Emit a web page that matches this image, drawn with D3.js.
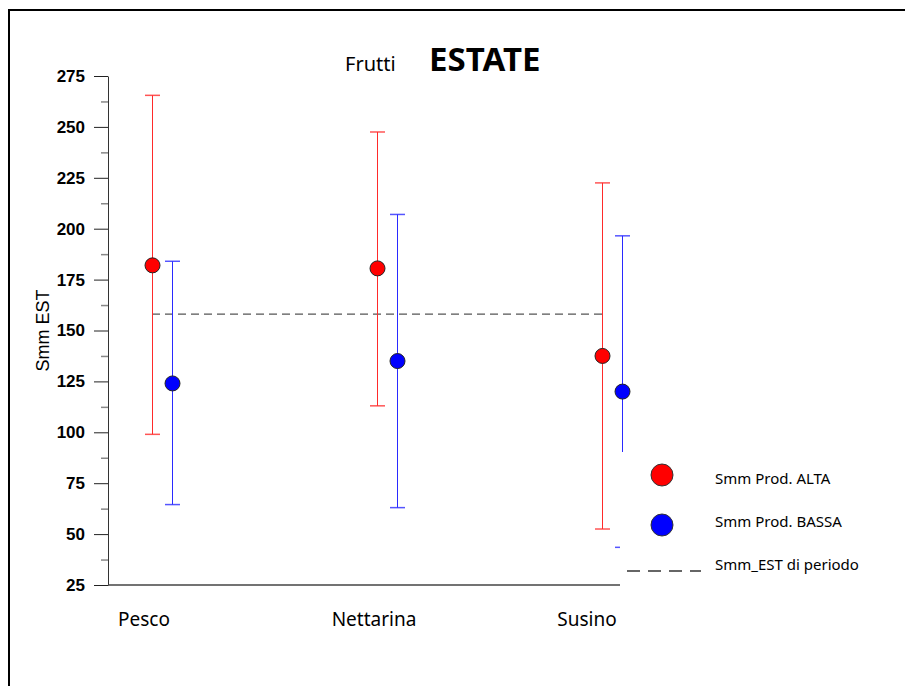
<!DOCTYPE html>
<html>
<head>
<meta charset="utf-8">
<script src="https://cdn.jsdelivr.net/npm/d3@7"></script>
<style>
  body { margin: 0; background: #fff; }
  .ytick text { font-family: "Liberation Sans", Arial, sans-serif; font-weight: bold; font-size: 17px; fill: #000; }
  .cal { font-family: "Noto Sans", "Open Sans", sans-serif; fill: #000; }
</style>
</head>
<body>
<svg id="chart"></svg>
<script>
const categories = ["Pesco", "Nettarina", "Susino"];
const altaMean  = [182, 180.5, 137.5];
const altaHigh  = [265.5, 247.5, 222.5];
const altaLow   = [99, 113, 52.5];
const bassaMean = [124, 135, 120];
const bassaHigh = [184, 207, 196.5];
const bassaLow  = [64.5, 63, 43.5];
const periodMean = 158;
const yTicks = [25, 50, 75, 100, 125, 150, 175, 200, 225, 250, 275];
const legendLabels = ["Smm Prod. ALTA", "Smm Prod. BASSA", "Smm_EST di periodo"];

const W = 905, H = 686;
const margin = { top: 76, left: 108, bottom: 101, right: 239 };

const svg = d3.select("#chart").attr("width", W).attr("height", H);

// frame
svg.append("rect")
    .attr("x", 9).attr("y", 10)
    .attr("width", W).attr("height", H)
    .attr("fill", "none").attr("stroke", "#000").attr("stroke-width", 2);

const y = d3.scaleLinear().domain([25, 275]).range([H - margin.bottom, margin.top]);
const x = d3.scalePoint().domain(categories).range([margin.left + 54, W - margin.right - 54]);
const off = 10;

// minor ticks
const minor = d3.range(37.5, 275, 25);
svg.append("g")
    .attr("transform", "translate(" + margin.left + ",0)")
    .call(d3.axisLeft(y).tickValues(minor).tickSize(7).tickSizeOuter(0).tickFormat(""))
    .call(g => g.select(".domain").remove())
    .call(g => g.selectAll("line").attr("stroke", "#888").attr("stroke-width", 1.5));

// major axis
svg.append("g")
    .attr("class", "ytick")
    .attr("transform", "translate(" + margin.left + ",0)")
    .call(d3.axisLeft(y).tickValues(yTicks).tickSize(14).tickSizeOuter(0).tickPadding(9))
    .call(g => g.select(".domain").attr("stroke", "#333"))
    .call(g => g.selectAll("line").attr("stroke", "#222"));

// x axis line
svg.append("line")
    .attr("x1", margin.left).attr("x2", W - margin.right)
    .attr("y1", y(25)).attr("y2", y(25))
    .attr("stroke", "#444").attr("stroke-width", 1.5);

// y label
svg.append("text")
    .attr("transform", "translate(49," + (y(150)) + ") rotate(-90)")
    .attr("text-anchor", "middle")
    .style("font-family", "Liberation Sans, Arial, sans-serif")
    .style("font-size", "18px")
    .text("Smm EST");

// category labels (slightly shifted left of the group centre, as in the source)
const labelShift = [-18, -13, -25];
svg.selectAll(".cat")
    .data(categories)
    .enter().append("text")
    .attr("class", "cal")
    .attr("x", (d, i) => x(d) + labelShift[i])
    .attr("y", 626)
    .attr("text-anchor", "middle")
    .style("font-size", "19px")
    .text((d) => d);

// title
svg.append("text").attr("class", "cal")
    .attr("x", 345).attr("y", 71)
    .style("font-size", "20px").text("Frutti");
svg.append("text").attr("class", "cal")
    .attr("x", 429).attr("y", 71)
    .style("font-size", "33px").style("font-weight", "bold").text("ESTATE");

// period dashed line
svg.append("line")
    .attr("x1", x(categories[0]) - off).attr("x2", x(categories[2]) - off)
    .attr("y1", y(periodMean)).attr("y2", y(periodMean))
    .attr("stroke", "#555").attr("stroke-width", 1.2)
    .attr("stroke-dasharray", "8,5");

function errorSeries(mean, hi, lo, dx, color, fill) {
    const g = svg.append("g");
    const pts = categories.map((c, i) => ({ c: c, m: mean[i], hi: hi[i], lo: lo[i] }));
    g.selectAll(".bar").data(pts).enter().append("line")
        .attr("x1", (d) => x(d.c) + dx + 0.5).attr("x2", (d) => x(d.c) + dx + 0.5)
        .attr("y1", (d) => y(d.hi)).attr("y2", (d) => y(d.lo))
        .attr("stroke", color).attr("stroke-width", 1);
    ["hi", "lo"].forEach(k => {
        g.selectAll(".cap" + k).data(pts).enter().append("line")
            .attr("x1", (d) => x(d.c) + dx - 7).attr("x2", (d) => x(d.c) + dx + 8)
            .attr("y1", (d) => y(d[k])).attr("y2", (d) => y(d[k]))
            .attr("stroke", color).attr("stroke-width", 1.5).attr("stroke-opacity", 0.8);
    });
    g.selectAll(".dot").data(pts).enter().append("circle")
        .attr("cx", (d) => x(d.c) + dx + 0.5).attr("cy", (d) => y(d.m))
        .attr("r", 7.5)
        .attr("fill", fill)
        .attr("stroke", "#222").attr("stroke-width", 1);
}

errorSeries(altaMean, altaHigh, altaLow, -off, "#ff2a2a", "#ff0000");
errorSeries(bassaMean, bassaHigh, bassaLow, off, "#2a2aff", "#0000ff");

// legend box (covers part of plot)
const leg = svg.append("g");
leg.append("rect")
    .attr("x", 620).attr("y", 452).attr("width", 270).attr("height", 140)
    .attr("fill", "#fff");
leg.append("circle").attr("cx", 662).attr("cy", 475).attr("r", 11)
    .attr("fill", "#ff0000").attr("stroke", "#333").attr("stroke-width", 1);
leg.append("circle").attr("cx", 662).attr("cy", 525).attr("r", 11)
    .attr("fill", "#0000ff").attr("stroke", "#333").attr("stroke-width", 1);
leg.append("line").attr("x1", 627).attr("x2", 701).attr("y1", 571).attr("y2", 571)
    .attr("stroke", "#666").attr("stroke-width", 2).attr("stroke-dasharray", "13,8");
leg.selectAll(".lt").data(legendLabels).enter().append("text")
    .attr("class", "cal")
    .attr("x", 715)
    .attr("y", (d, i) => [484, 527, 570][i])
    .style("font-size", "15px")
    .text((d) => d);
</script>
</body>
</html>
